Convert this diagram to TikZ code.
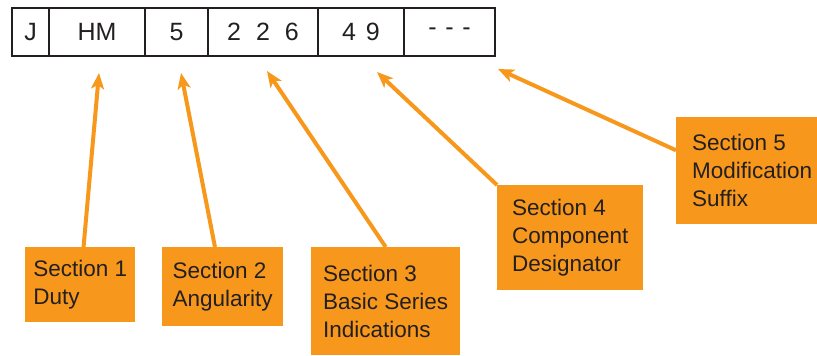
\documentclass[tikz,border=0pt]{standalone}
\usepackage{fontspec}
\setmainfont{Liberation Sans}
\usetikzlibrary{positioning,arrows.meta}
\definecolor{tagorange}{RGB}{247,152,29}
\definecolor{inkgray}{RGB}{35,31,32}

\tikzset{
    cell/.style={draw=inkgray, line width=2pt, minimum height=48pt, inner sep=0pt, outer sep=0pt, text=inkgray, font=\fontsize{25}{30}\selectfont},
    section/.style={fill=tagorange, anchor=north west, align=left, inner sep=0pt, text=inkgray, font=\fontsize{22.5}{28}\selectfont},
    pointer/.style={draw=tagorange, line width=4pt, -{Stealth[length=16pt,width=13pt,inset=4pt]}}
}

\begin{document}
\begin{tikzpicture}[x=1pt, y=-1pt]
    \useasboundingbox (0,0) rectangle (817,356);

    % Part number row
    \node[cell, minimum width=37pt, anchor=north west] (c1) at (12,8) {J};
    \node[cell, minimum width=96pt, right=0pt of c1] (c2) {HM};
    \node[cell, minimum width=63pt, right=0pt of c2] (c3) {5};
    \node[cell, minimum width=110pt, right=0pt of c3] (c4) {2\hspace{0.6em}2\hspace{0.6em}6};
    \node[cell, minimum width=86pt, right=0pt of c4] (c5) {4\hspace{0.4em}9};
    \node[cell, minimum width=91pt, right=0pt of c5] (c6) {-\hspace{0.35em}-\hspace{0.35em}-};

    % Section boxes
    \node[section, minimum width=110pt, minimum height=75pt] (s1) at (25,247) {Section 1\\Duty};
    \node[section, minimum width=121pt, minimum height=79pt] (s2) at (162,247) {Section 2\\Angularity};
    \node[section, minimum width=149pt, minimum height=108pt] (s3) at (311,247) {Section 3\\Basic Series\\Indications};
    \node[section, minimum width=146pt, minimum height=105pt] (s4) at (497,185) {Section 4\\Component\\Designator};
    \node[section, minimum width=152pt, minimum height=107pt] (s5) at (676,117) {Section 5\\Modification\\Suffix};

    % Arrow tips below the row
    \coordinate (t1) at (99,73);
    \coordinate (t2) at (181,73);
    \coordinate (t3) at (267,71);
    \coordinate (t4) at (377,72);
    \coordinate (t5) at (498,69);

    \foreach \s/\t in {s1/t1, s2/t2, s3.north/t3, s4.north west/t4, s5.165/t5}
        \draw[pointer] (\s) -- (\t);
\end{tikzpicture}
\end{document}
